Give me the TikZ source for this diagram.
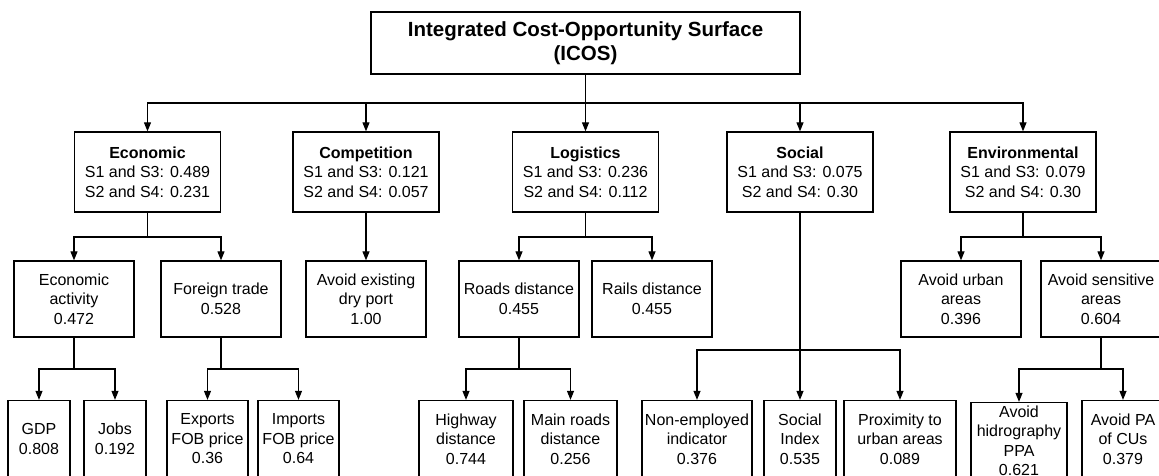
\documentclass[tikz,border=0pt]{standalone}
\usepackage{fontspec}
\setmainfont{Liberation Sans}
\usetikzlibrary{arrows.meta}

\begin{document}
\begin{tikzpicture}[x=1pt, y=-1pt,
  box/.style={draw, line width=1.3pt, align=center, inner sep=0pt,
    font=\fontsize{16}{19.5}\selectfont},
  crit/.style={box, minimum width=146pt, minimum height=80pt},
  sub/.style={box, minimum width=120pt, minimum height=76pt},
  leaf/.style={box, minimum height=77pt},
  link/.style={line width=1.1pt},
  arr/.style={link, -{Triangle[length=9pt, width=7pt]}}]

  \useasboundingbox (0,0) rectangle (1159,475);
  \clip (0,0) rectangle (1159,475);

  % goal
  \node[box, minimum width=429pt, minimum height=62pt,
    font=\fontsize{20.5}{24}\selectfont\bfseries] (icos) at (585.5,43)
    {Integrated Cost-Opportunity Surface\\(ICOS)};

  % criteria
  \node[crit] (econ) at (147.5,172) {\textbf{Economic}\\S1 and S3: 0.489\\S2 and S4: 0.231};
  \node[crit] (comp) at (366,172) {\textbf{Competition}\\S1 and S3: 0.121\\S2 and S4: 0.057};
  \node[crit] (logi) at (585.5,172) {\textbf{Logistics}\\S1 and S3: 0.236\\S2 and S4: 0.112};
  \node[crit] (soc) at (800,172) {\textbf{Social}\\S1 and S3: 0.075\\S2 and S4: 0.30};
  \node[crit] (env) at (1023,172) {\textbf{Environmental}\\S1 and S3: 0.079\\S2 and S4: 0.30};

  % sub-criteria
  \node[sub] (ecact) at (74,299) {Economic\\activity\\0.472};
  \node[sub] (fortr) at (221,299) {Foreign trade\\0.528};
  \node[sub] (dryp) at (366,299) {Avoid existing\\dry port\\1.00};
  \node[sub] (roads) at (519,299) {Roads distance\\0.455};
  \node[sub] (rails) at (652,299) {Rails distance\\0.455};
  \node[sub] (urban) at (961,299) {Avoid urban\\areas\\0.396};
  \node[sub] (sensit) at (1101,299) {Avoid sensitive\\areas\\0.604};

  % factors
  \node[leaf, minimum width=62pt] (gdp) at (39,439) {GDP\\0.808};
  \node[leaf, minimum width=62pt] (jobs) at (115,439) {Jobs\\0.192};
  \node[leaf, minimum width=81pt] (expo) at (207.5,439) {Exports\\FOB price\\0.36};
  \node[leaf, minimum width=81pt] (impo) at (298.5,439) {Imports\\FOB price\\0.64};
  \node[leaf, minimum width=94pt] (hway) at (466,439) {Highway\\distance\\0.744};
  \node[leaf, minimum width=93pt] (mroad) at (570.5,439) {Main roads\\distance\\0.256};
  \node[leaf, minimum width=110pt] (nonemp) at (697,439) {Non-employed\\indicator\\0.376};
  \node[leaf, minimum width=72pt] (socidx) at (800,439) {Social\\Index\\0.535};
  \node[leaf, minimum width=112pt] (proxim) at (900,439) {Proximity to\\urban areas\\0.089};
  \node[leaf, minimum width=96pt] (hidro) at (1019,441) {Avoid\\hidrography\\PPA\\0.621};
  \node[leaf, minimum width=82pt] (avpa) at (1123,439) {Avoid PA\\of CUs\\0.379};

  % branch points
  \coordinate (topbus) at (585.5,103);
  \coordinate (econbus) at (147.5,237);
  \coordinate (logibus) at (585.5,237);
  \coordinate (envbus) at (1023,237);
  \coordinate (socbus) at (800,350);
  \coordinate (ecactbus) at (74,369);
  \coordinate (fortrbus) at (221,369);
  \coordinate (roadsbus) at (519,369);
  \coordinate (sensitbus) at (1101,369);

  % goal to criteria
  \draw[link] (icos.south) -- (topbus);
  \draw[arr] (topbus) -| (econ.north);
  \draw[arr] (topbus) -| (comp.north);
  \draw[arr] (topbus) -- (logi.north);
  \draw[arr] (topbus) -| (soc.north);
  \draw[arr] (topbus) -| (env.north);

  % criteria to sub-criteria
  \draw[link] (econ.south) -- (econbus);
  \draw[arr] (econbus) -| (ecact.north);
  \draw[arr] (econbus) -| (fortr.north);
  \draw[arr] (comp.south) -- (dryp.north);
  \draw[link] (logi.south) -- (logibus);
  \draw[arr] (logibus) -| (roads.north);
  \draw[arr] (logibus) -| (rails.north);
  \draw[arr] (soc.south) -- (socidx.north);
  \draw[arr] (socbus) -| (nonemp.north);
  \draw[arr] (socbus) -| (proxim.north);
  \draw[link] (env.south) -- (envbus);
  \draw[arr] (envbus) -| (urban.north);
  \draw[arr] (envbus) -| (sensit.north);

  % sub-criteria to factors
  \draw[link] (ecact.south) -- (ecactbus);
  \draw[arr] (ecactbus) -| (gdp.north);
  \draw[arr] (ecactbus) -| (jobs.north);
  \draw[link] (fortr.south) -- (fortrbus);
  \draw[arr] (fortrbus) -| (expo.north);
  \draw[arr] (fortrbus) -| (impo.north);
  \draw[link] (roads.south) -- (roadsbus);
  \draw[arr] (roadsbus) -| (hway.north);
  \draw[arr] (roadsbus) -| (mroad.north);
  \draw[link] (sensit.south) -- (sensitbus);
  \draw[arr] (sensitbus) -| (hidro.north);
  \draw[arr] (sensitbus) -| (avpa.north);
\end{tikzpicture}
\end{document}
